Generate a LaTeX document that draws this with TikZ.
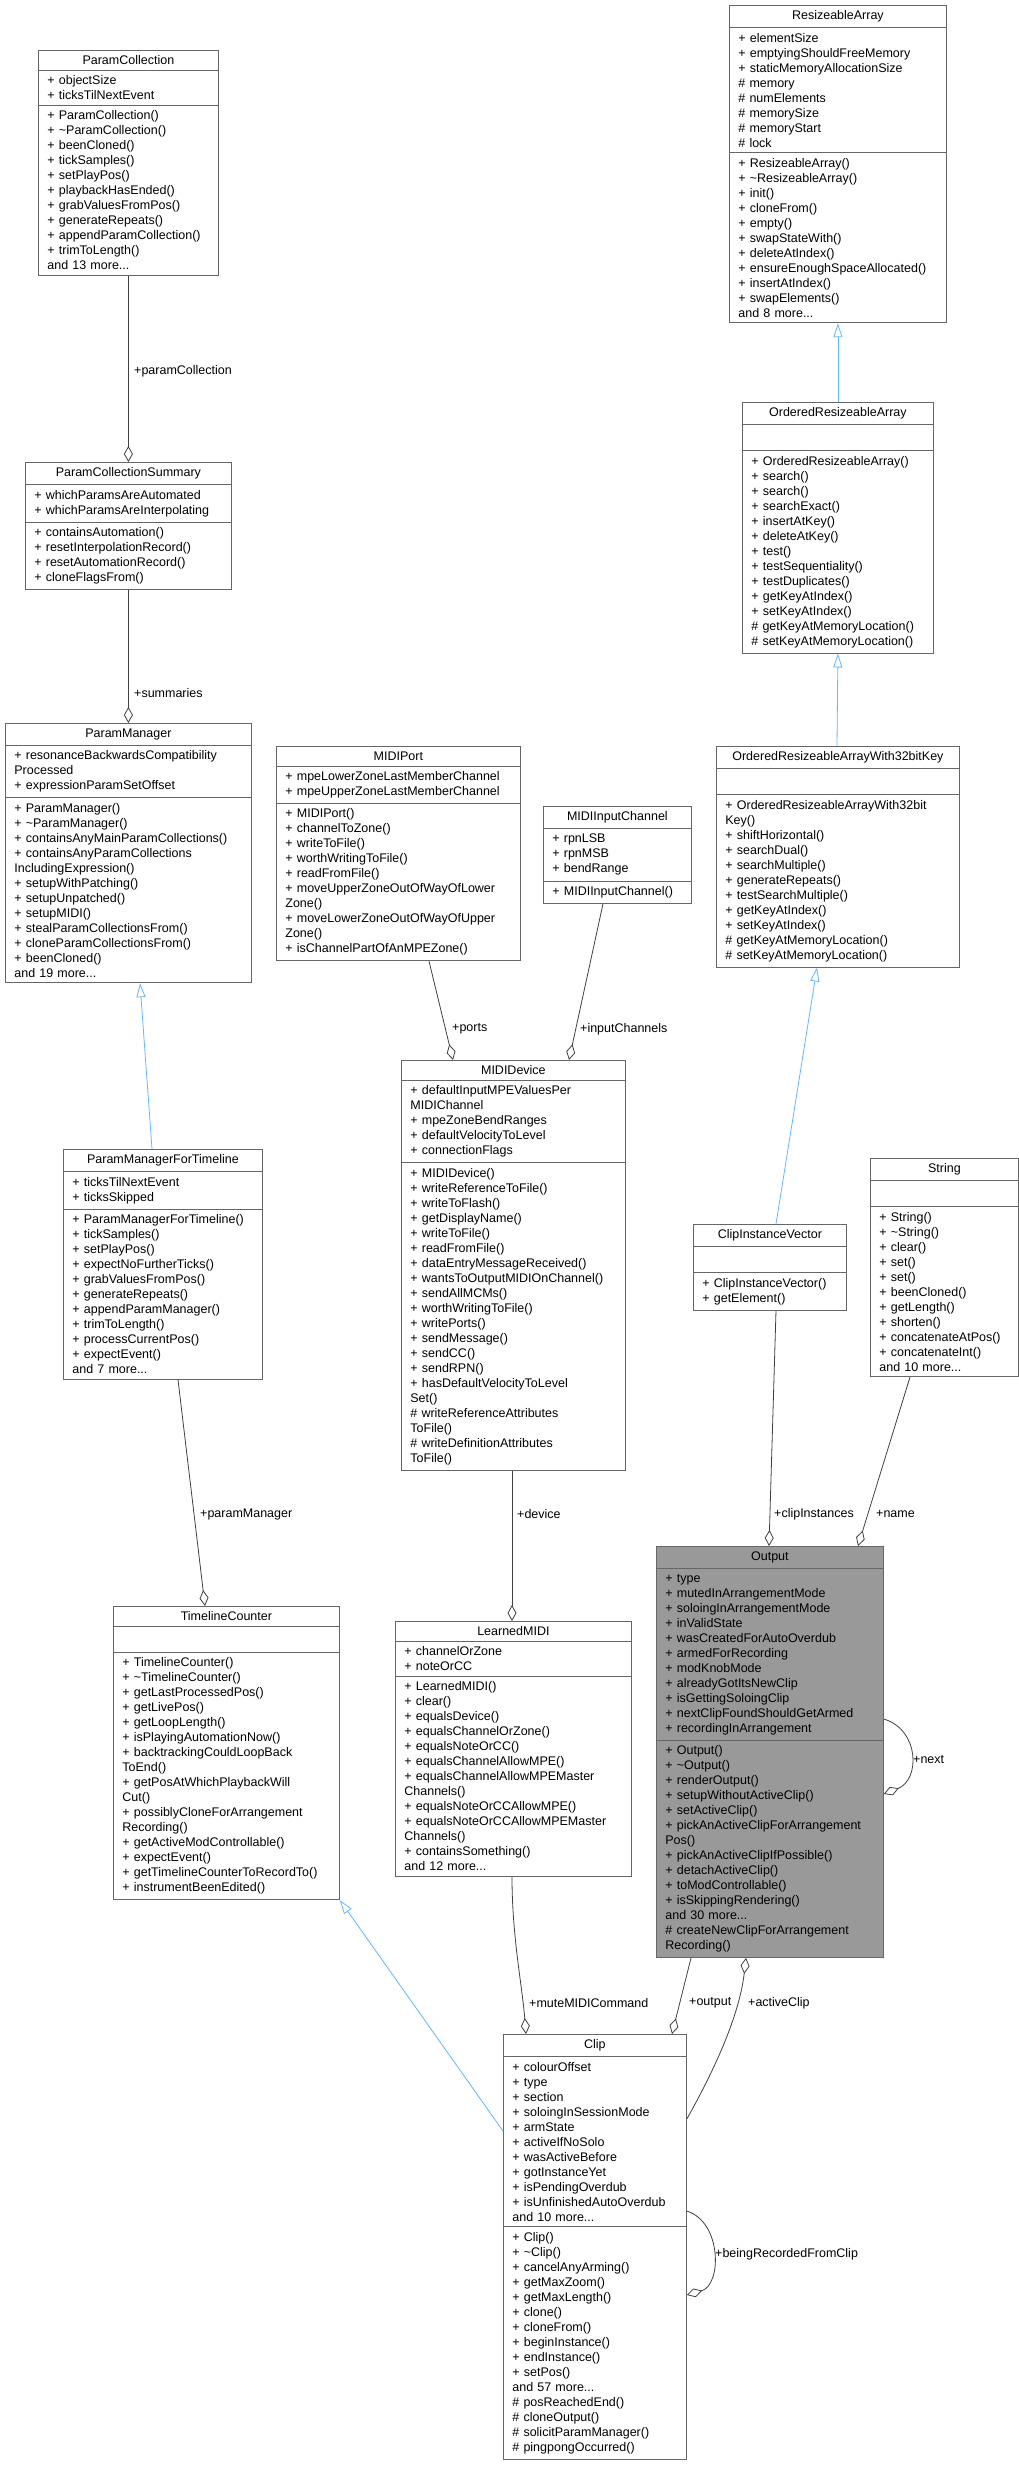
\documentclass[tikz,border=0pt]{standalone}
\usepackage{fontspec}
\setmainfont{Liberation Sans}
\usetikzlibrary{shapes.multipart,arrows.meta,calc}
\newcommand\pl{+\nobreakspace}
\newcommand\hs{\#\nobreakspace}
\newcommand\tld{\textasciitilde}
\newcommand\ttl[1]{\makebox[\linewidth][c]{#1}}
\definecolor{edgec}{HTML}{404040}
\definecolor{inhc}{HTML}{63B8FF}
\definecolor{boxc}{HTML}{666666}
\tikzset{
  cls/.style={draw=boxc, rectangle split, rectangle split parts=3,
    anchor=north west,
    inner xsep=9pt, inner ysep=5pt, font=\fontsize{12.5}{15}\selectfont,
    fill=white, line width=0.8pt, align=left},
  agg/.style={draw=edgec, line width=0.8pt, -{Diamond[open,length=16pt,width=9pt]}},
  inh/.style={draw=inhc, line width=0.8pt, -{Triangle[open,length=14pt,width=9pt]}},
  lbl/.style={anchor=west, font=\fontsize{12.5}{15}\selectfont, inner sep=1pt}
}
\begin{document}
\begin{tikzpicture}[x=1pt,y=-1pt]
\useasboundingbox (0,0) rectangle (1019,2476);

\node[cls,text width=162pt] (PC) at (38,50) {\ttl{ParamCollection}
\nodepart{two}\pl objectSize\\\pl ticksTilNextEvent
\nodepart{three}\pl ParamCollection()\\\pl\tld ParamCollection()\\\pl beenCloned()\\\pl tickSamples()\\\pl setPlayPos()\\\pl playbackHasEnded()\\\pl grabValuesFromPos()\\\pl generateRepeats()\\\pl appendParamCollection()\\\pl trimToLength()\\and 13 more...};

\node[cls,text width=188pt] (PCS) at (25,462) {\ttl{ParamCollectionSummary}
\nodepart{two}\pl whichParamsAreAutomated\\\pl whichParamsAreInterpolating
\nodepart{three}\pl containsAutomation()\\\pl resetInterpolationRecord()\\\pl resetAutomationRecord()\\\pl cloneFlagsFrom()};

\node[cls,text width=228pt] (PM) at (5,723) {\ttl{ParamManager}
\nodepart{two}\pl resonanceBackwardsCompatibility\\Processed\\\pl expressionParamSetOffset
\nodepart{three}\pl ParamManager()\\\pl\tld ParamManager()\\\pl containsAnyMainParamCollections()\\\pl containsAnyParamCollections\\IncludingExpression()\\\pl setupWithPatching()\\\pl setupUnpatched()\\\pl setupMIDI()\\\pl stealParamCollectionsFrom()\\\pl cloneParamCollectionsFrom()\\\pl beenCloned()\\and 19 more...};

\node[cls,text width=181pt] (PMT) at (63,1149) {\ttl{ParamManagerForTimeline}
\nodepart{two}\pl ticksTilNextEvent\\\pl ticksSkipped
\nodepart{three}\pl ParamManagerForTimeline()\\\pl tickSamples()\\\pl setPlayPos()\\\pl expectNoFurtherTicks()\\\pl grabValuesFromPos()\\\pl generateRepeats()\\\pl appendParamManager()\\\pl trimToLength()\\\pl processCurrentPos()\\\pl expectEvent()\\and 7 more...};

\node[cls,text width=208pt] (TC) at (113,1606) {\ttl{TimelineCounter}
\nodepart{two}\strut
\nodepart{three}\pl TimelineCounter()\\\pl\tld TimelineCounter()\\\pl getLastProcessedPos()\\\pl getLivePos()\\\pl getLoopLength()\\\pl isPlayingAutomationNow()\\\pl backtrackingCouldLoopBack\\ToEnd()\\\pl getPosAtWhichPlaybackWill\\Cut()\\\pl possiblyCloneForArrangement\\Recording()\\\pl getActiveModControllable()\\\pl expectEvent()\\\pl getTimelineCounterToRecordTo()\\\pl instrumentBeenEdited()};

\node[cls,text width=226pt] (MP) at (276,746) {\ttl{MIDIPort}
\nodepart{two}\pl mpeLowerZoneLastMemberChannel\\\pl mpeUpperZoneLastMemberChannel
\nodepart{three}\pl MIDIPort()\\\pl channelToZone()\\\pl writeToFile()\\\pl worthWritingToFile()\\\pl readFromFile()\\\pl moveUpperZoneOutOfWayOfLower\\Zone()\\\pl moveLowerZoneOutOfWayOfUpper\\Zone()\\\pl isChannelPartOfAnMPEZone()};

\node[cls,text width=130pt] (MIC) at (543,806) {\ttl{MIDIInputChannel}
\nodepart{two}\pl rpnLSB\\\pl rpnMSB\\\pl bendRange
\nodepart{three}\pl MIDIInputChannel()};

\node[cls,text width=206pt] (MD) at (401,1060) {\ttl{MIDIDevice}
\nodepart{two}\pl defaultInputMPEValuesPer\\MIDIChannel\\\pl mpeZoneBendRanges\\\pl defaultVelocityToLevel\\\pl connectionFlags
\nodepart{three}\pl MIDIDevice()\\\pl writeReferenceToFile()\\\pl writeToFlash()\\\pl getDisplayName()\\\pl writeToFile()\\\pl readFromFile()\\\pl dataEntryMessageReceived()\\\pl wantsToOutputMIDIOnChannel()\\\pl sendAllMCMs()\\\pl worthWritingToFile()\\\pl writePorts()\\\pl sendMessage()\\\pl sendCC()\\\pl sendRPN()\\\pl hasDefaultVelocityToLevel\\Set()\\\hs writeReferenceAttributes\\ToFile()\\\hs writeDefinitionAttributes\\ToFile()};

\node[cls,text width=218pt] (LM) at (395,1621) {\ttl{LearnedMIDI}
\nodepart{two}\pl channelOrZone\\\pl noteOrCC
\nodepart{three}\pl LearnedMIDI()\\\pl clear()\\\pl equalsDevice()\\\pl equalsChannelOrZone()\\\pl equalsNoteOrCC()\\\pl equalsChannelAllowMPE()\\\pl equalsChannelAllowMPEMaster\\Channels()\\\pl equalsNoteOrCCAllowMPE()\\\pl equalsNoteOrCCAllowMPEMaster\\Channels()\\\pl containsSomething()\\and 12 more...};

\node[cls,text width=199pt] (RA) at (729,5) {\ttl{ResizeableArray}
\nodepart{two}\pl elementSize\\\pl emptyingShouldFreeMemory\\\pl staticMemoryAllocationSize\\\hs memory\\\hs numElements\\\hs memorySize\\\hs memoryStart\\\hs lock
\nodepart{three}\pl ResizeableArray()\\\pl\tld ResizeableArray()\\\pl init()\\\pl cloneFrom()\\\pl empty()\\\pl swapStateWith()\\\pl deleteAtIndex()\\\pl ensureEnoughSpaceAllocated()\\\pl insertAtIndex()\\\pl swapElements()\\and 8 more...};

\node[cls,text width=173pt] (ORA) at (742,402) {\ttl{OrderedResizeableArray}
\nodepart{two}\strut
\nodepart{three}\pl OrderedResizeableArray()\\\pl search()\\\pl search()\\\pl searchExact()\\\pl insertAtKey()\\\pl deleteAtKey()\\\pl test()\\\pl testSequentiality()\\\pl testDuplicates()\\\pl getKeyAtIndex()\\\pl setKeyAtIndex()\\\hs getKeyAtMemoryLocation()\\\hs setKeyAtMemoryLocation()};

\node[cls,text width=225pt] (ORB) at (716,746) {\ttl{OrderedResizeableArrayWith32bitKey}
\nodepart{two}\strut
\nodepart{three}\pl OrderedResizeableArrayWith32bit\\Key()\\\pl shiftHorizontal()\\\pl searchDual()\\\pl searchMultiple()\\\pl generateRepeats()\\\pl testSearchMultiple()\\\pl getKeyAtIndex()\\\pl setKeyAtIndex()\\\hs getKeyAtMemoryLocation()\\\hs setKeyAtMemoryLocation()};

\node[cls,text width=135pt] (CIV) at (693,1224) {\ttl{ClipInstanceVector}
\nodepart{two}\strut
\nodepart{three}\pl ClipInstanceVector()\\\pl getElement()};

\node[cls,text width=130pt] (STR) at (870,1158) {\ttl{String}
\nodepart{two}\strut
\nodepart{three}\pl String()\\\pl\tld String()\\\pl clear()\\\pl set()\\\pl set()\\\pl beenCloned()\\\pl getLength()\\\pl shorten()\\\pl concatenateAtPos()\\\pl concatenateInt()\\and 10 more...};

\node[cls,text width=209pt,fill={rgb,255:red,153;green,153;blue,153}] (OUT) at (656,1546) {\ttl{Output}
\nodepart{two}\pl type\\\pl mutedInArrangementMode\\\pl soloingInArrangementMode\\\pl inValidState\\\pl wasCreatedForAutoOverdub\\\pl armedForRecording\\\pl modKnobMode\\\pl alreadyGotItsNewClip\\\pl isGettingSoloingClip\\\pl nextClipFoundShouldGetArmed\\\pl recordingInArrangement
\nodepart{three}\pl Output()\\\pl\tld Output()\\\pl renderOutput()\\\pl setupWithoutActiveClip()\\\pl setActiveClip()\\\pl pickAnActiveClipForArrangement\\Pos()\\\pl pickAnActiveClipIfPossible()\\\pl detachActiveClip()\\\pl toModControllable()\\\pl isSkippingRendering()\\and 30 more...\\\hs createNewClipForArrangement\\Recording()};

\node[cls,text width=165pt] (CL) at (503,2034) {\ttl{Clip}
\nodepart{two}\pl colourOffset\\\pl type\\\pl section\\\pl soloingInSessionMode\\\pl armState\\\pl activeIfNoSolo\\\pl wasActiveBefore\\\pl gotInstanceYet\\\pl isPendingOverdub\\\pl isUnfinishedAutoOverdub\\and 10 more...
\nodepart{three}\pl Clip()\\\pl\tld Clip()\\\pl cancelAnyArming()\\\pl getMaxZoom()\\\pl getMaxLength()\\\pl clone()\\\pl cloneFrom()\\\pl beginInstance()\\\pl endInstance()\\\pl setPos()\\and 57 more...\\\hs posReachedEnd()\\\hs cloneOutput()\\\hs solicitParamManager()\\\hs pingpongOccurred()};

% connectors
\draw[agg] (PC.south) -- (PCS.north);
\node[lbl] (l1) at (133,371) {+paramCollection};
\draw[agg] (PCS.south) -- (PM.north);
\node[lbl] (l2) at (133,693) {+summaries};
\draw[inh] (PMT.north west -| 152,0) -- (PM.south west -| 140,0);
\draw[agg] (PMT.south west -| 178,0) -- (TC.north west -| 205,0);
\node[lbl] (l3) at (199,1514) {+paramManager};
\draw[agg] (MP.south west -| 429,0) -- (MD.north west -| 453,0);
\node[lbl] (l4) at (451,1029) {+ports};
\draw[agg] (MIC.south west -| 603,0) -- (MD.north west -| 569,0);
\node[lbl] (l5) at (579,1029) {+inputChannels};
\draw[agg] (MD.south west -| 512,0) -- (LM.north west -| 512,0);
\node[lbl] (l6) at (516,1514) {+device};
\draw[agg] (LM.south west -| 512,0) .. controls ($(LM.south west -| 512,0)+(0,60)$) and ($(CL.north west -| 522,0)+(0,-50)$) .. (CL.north west -| 526,0);
\node[lbl] (l7) at (528,2003) {+muteMIDICommand};
\draw[inh] (ORA.north) -- (RA.south);
\draw[inh] (ORB.north west -| 837,0) -- (ORA.south);
\draw[inh] (CIV.north west -| 776,0) -- (ORB.south west -| 817,0);
\draw[agg] (CIV.south west -| 776,0) -- (OUT.north west -| 769,0);
\node[lbl] (l8) at (773,1514) {+clipInstances};
\draw[agg] (STR.south west -| 910,0) -- (OUT.north west -| 858,0);
\node[lbl] (l9) at (875,1514) {+name};
\draw[agg] (OUT.south west -| 691,0) -- (CL.north west -| 672,0);
\node[lbl] (l10) at (688,2003) {+output};
\draw[agg] (CL.north east |- 0,2119) .. controls (720,2060) and (740,2010) .. (OUT.south west -| 746,0);
\node[lbl] (l11) at (747,2003) {+activeClip};
\draw[inh] (CL.north west |- 0,2131) -- (TC.south east);
\draw[agg] (OUT.north east |- 0,1719) .. controls (920,1730) and (920,1780) .. (OUT.north east |- 0,1794);
\node[lbl] (l12) at (912,1759) {+next};
\draw[agg] (CL.north east |- 0,2211) .. controls (722,2222) and (722,2285) .. (CL.north east |- 0,2295);
\node[lbl] (l13) at (714,2254) {+beingRecordedFromClip};
\end{tikzpicture}
\end{document}
